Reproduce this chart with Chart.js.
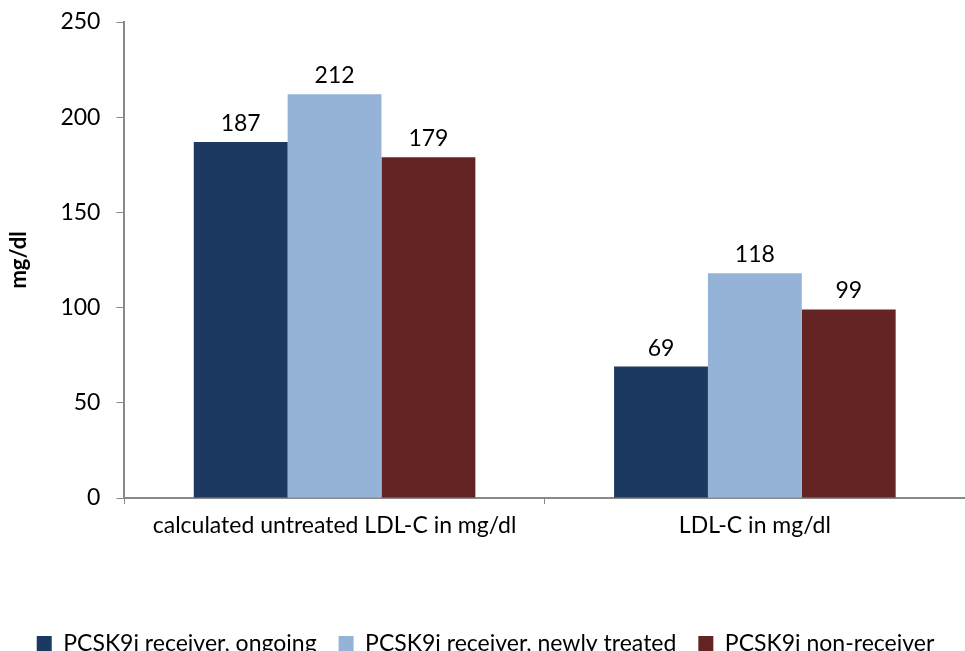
<!DOCTYPE html>
<html>
<head>
<meta charset="utf-8">
<script src="https://cdn.jsdelivr.net/npm/chart.js@4"></script>
<style>
  html, body { margin: 0; padding: 0; background: #fff; }
  #wrap { width: 965px; height: 651px; }
</style>
</head>
<body>
<div id="wrap"><canvas id="barCanvas"></canvas></div>
<script>
const categories = ["calculated untreated LDL-C in mg/dl", "LDL-C in mg/dl"];
const seriesNames = ["PCSK9i receiver, ongoing", "PCSK9i receiver, newly treated", "PCSK9i non-receiver"];
const ongoing = [187, 69];
const newlyTreated = [212, 118];
const nonReceiver = [179, 99];
const seriesColors = ["#1c3961", "#95b3d7", "#632423"];

const axisGray = "#898989";
const fontFamily = "Lato, 'Open Sans', sans-serif";
const fontSize = 23;

// draws the value above each bar
const valueLabels = {
  id: "valueLabels",
  afterDatasetsDraw(chart) {
    const ctx = chart.ctx;
    ctx.save();
    ctx.font = fontSize + "px " + fontFamily;
    ctx.fillStyle = "#000";
    ctx.textAlign = "center";
    ctx.textBaseline = "bottom";
    chart.data.datasets.forEach((ds, i) => {
      chart.getDatasetMeta(i).data.forEach((bar, j) => {
        ctx.fillText(ds.data[j], bar.x, bar.y - 7);
      });
    });
    ctx.restore();
  },
};

const barCanvas = document.getElementById("barCanvas");

const barChart = new Chart(barCanvas, {
  type: "bar",
  data: {
    labels: categories,
    datasets: [
      { label: seriesNames[0], data: ongoing, backgroundColor: seriesColors[0] },
      { label: seriesNames[1], data: newlyTreated, backgroundColor: seriesColors[1] },
      { label: seriesNames[2], data: nonReceiver, backgroundColor: seriesColors[2] },
    ],
  },
  options: {
    responsive: true,
    maintainAspectRatio: false,
    animation: false,
    layout: {
      padding: { top: 22, left: 6, right: 0, bottom: -14 },
    },
    datasets: {
      bar: {
        barPercentage: 1,
        categoryPercentage: 0.67,
      },
    },
    scales: {
      x: {
        grid: {
          display: true,
          offset: true,
          drawOnChartArea: false,
          drawTicks: true,
          tickLength: 6,
          color: axisGray,
        },
        border: { display: true, color: axisGray, width: 2 },
        ticks: {
          color: "#000",
          padding: 8,
          font: { family: fontFamily, size: fontSize },
        },
        afterFit: (scale) => {
          scale.height = 112;
        },
      },
      y: {
        min: 0,
        max: 250,
        ticks: {
          stepSize: 50,
          color: "#000",
          padding: 16,
          font: { family: fontFamily, size: fontSize },
        },
        grid: {
          display: true,
          drawOnChartArea: false,
          drawTicks: true,
          tickLength: 8,
          color: axisGray,
        },
        border: { display: true, color: axisGray, width: 2 },
        title: {
          display: true,
          text: "mg/dl",
          color: "#000",
          font: { family: fontFamily, size: 22, weight: "bold" },
          padding: { top: 0, bottom: 12 },
        },
        afterFit: (scale) => {
          scale.paddingTop = 0;
          scale.paddingBottom = 0;
        },
      },
    },
    plugins: {
      legend: {
        position: "bottom",
        labels: {
          color: "#000",
          boxWidth: 15,
          boxHeight: 15,
          padding: 22,
          font: { family: fontFamily, size: fontSize },
        },
      },
      tooltip: { enabled: false },
    },
  },
  plugins: [valueLabels],
});
</script>
</body>
</html>
